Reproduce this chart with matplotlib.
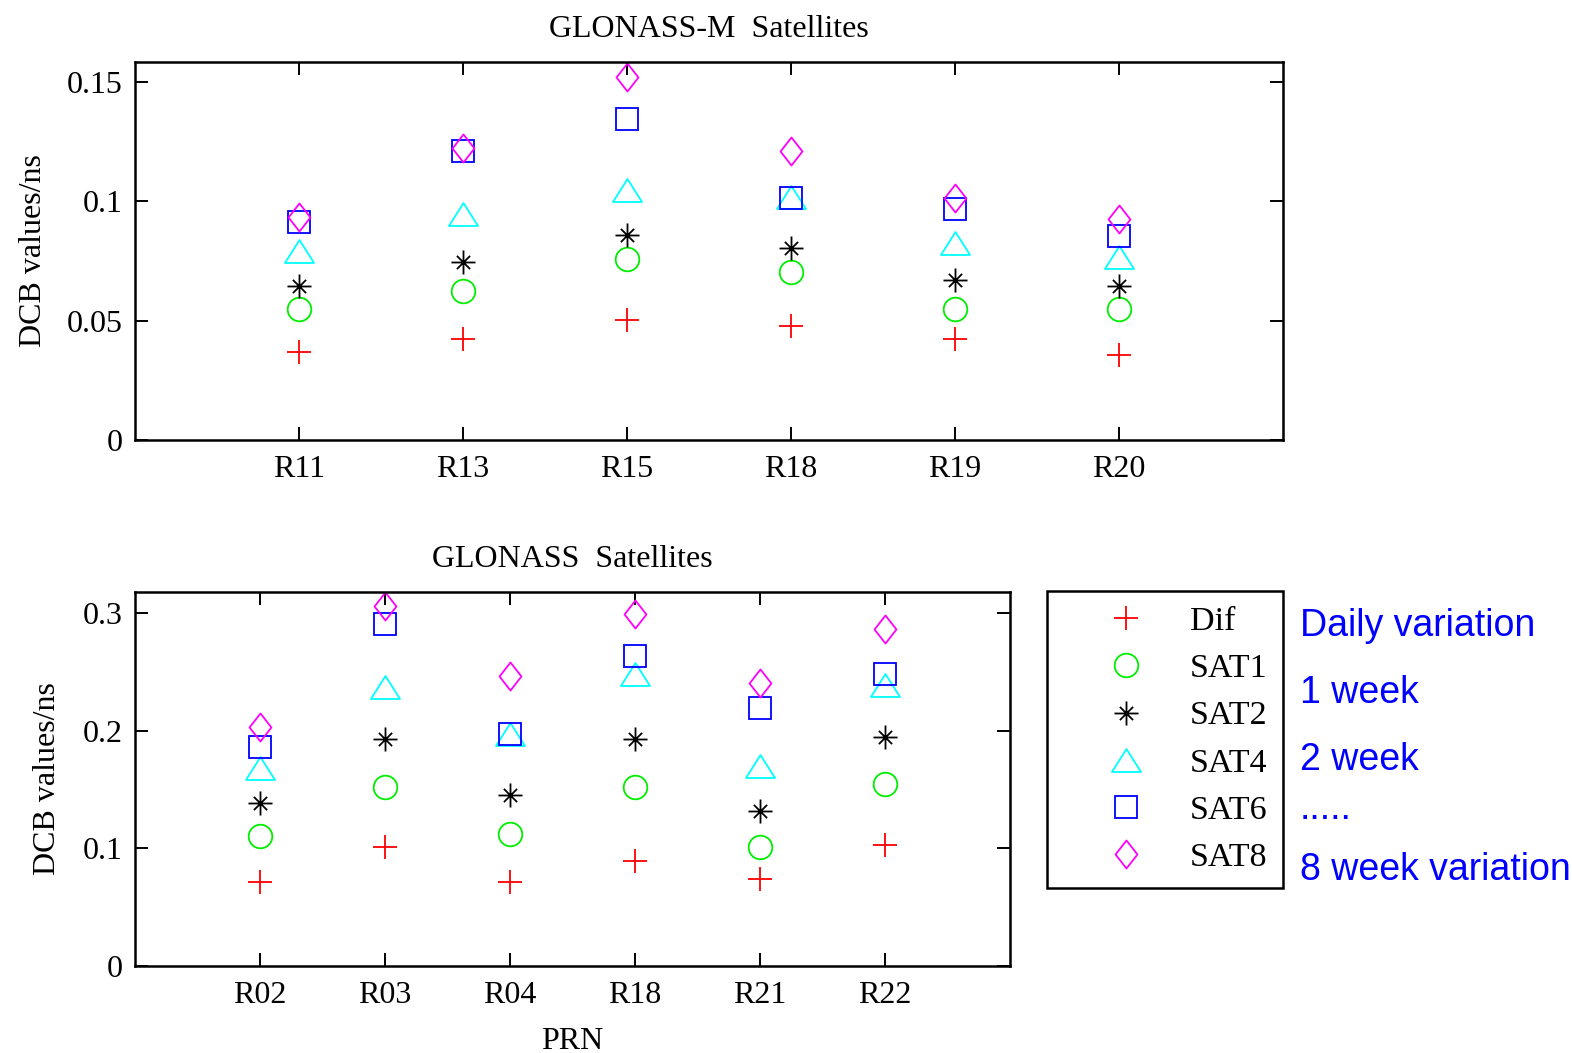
import numpy as np
import matplotlib.pyplot as plt
from matplotlib.path import Path
from matplotlib.lines import Line2D

plt.rcParams['font.family'] = 'Liberation Serif'

# DCB values (ns) per satellite, GLONASS-M group
prn_m = ['R11', 'R13', 'R15', 'R18', 'R19', 'R20']
dif_m = [0.0369, 0.0425, 0.0503, 0.0479, 0.0423, 0.0358]
sat1_m = [0.0548, 0.0626, 0.0757, 0.0703, 0.0548, 0.0548]
sat2_m = [0.0647, 0.0747, 0.0858, 0.0803, 0.0671, 0.0647]
sat4_m = [0.0791, 0.0946, 0.1046, 0.1020, 0.0824, 0.0766]
sat6_m = [0.0914, 0.1213, 0.1345, 0.1013, 0.0968, 0.0856]
sat8_m = [0.0933, 0.1225, 0.1523, 0.1213, 0.1013, 0.0925]

# GLONASS group
prn_g = ['R02', 'R03', 'R04', 'R18', 'R21', 'R22']
dif_g = [0.0716, 0.1011, 0.0716, 0.0897, 0.0736, 0.1032]
sat1_g = [0.1103, 0.1524, 0.1123, 0.1524, 0.1011, 0.1547]
sat2_g = [0.1390, 0.1928, 0.1458, 0.1928, 0.1318, 0.1948]
sat4_g = [0.1680, 0.2372, 0.1970, 0.2479, 0.1702, 0.2387]
sat6_g = [0.1860, 0.2908, 0.1974, 0.2639, 0.2192, 0.2484]
sat8_g = [0.2034, 0.3063, 0.2464, 0.2994, 0.2404, 0.2865]

names = ['Dif', 'SAT1', 'SAT2', 'SAT4', 'SAT6', 'SAT8']
notes = ['Daily variation', '1 week', '2 week', '.....', '8 week variation']

# matlab-like marker shapes
M, L = Path.MOVETO, Path.LINETO
d = 0.55
star = Path([(0, -1), (0, 1), (-1, 0), (1, 0), (-d, -d), (d, d), (-d, d), (d, -d)],
            [M, L, M, L, M, L, M, L])
tri = Path([(-1, -0.79), (1, -0.79), (0, 0.79), (-1, -0.79)], [M, L, L, Path.CLOSEPOLY])
dia = Path([(0, 1), (0.78, 0), (0, -1), (-0.78, 0), (0, 1)], [M, L, L, L, Path.CLOSEPOLY])

styles = [
    dict(marker='+', color='#ff0000', ms=17.3),
    dict(marker='o', color='#00ee00', ms=17.0),
    dict(marker=star, color='black', ms=17.3),
    dict(marker=tri, color='#00ffff', ms=20.9),
    dict(marker='s', color='#0000ff', ms=16.4),
    dict(marker=dia, color='#ff00ff', ms=20.2),
]

FS = 23


def draw(ax, labels, series, ymax, yticks, yticklabels, title, tpad):
    x = np.arange(1, len(labels) + 1)
    for vals, st in zip(series, styles):
        ax.plot(x, vals, linestyle='none', marker=st['marker'], ms=st['ms'],
                mfc='none', mec=st['color'], mew=1.3)
    ax.set_xlim(0, 7)
    ax.set_ylim(0, ymax)
    ax.set_xticks(x)
    ax.set_xticklabels(labels)
    ax.set_yticks(yticks)
    ax.set_yticklabels(yticklabels)
    ax.tick_params(direction='in', length=9.5, width=1.4, labelsize=FS,
                   top=True, right=True)
    ax.tick_params(axis='x', pad=11)
    ax.tick_params(axis='y', pad=9)
    for s in ax.spines.values():
        s.set_linewidth(1.8)
    ax.set_title(title, fontsize=FS, pad=tpad)
    ax.set_ylabel('DCB values/ns', fontsize=FS)


fig = plt.figure(figsize=(15.72, 10.53), dpi=100)
W, H = 1572, 1053

ax1 = fig.add_axes([135 / W, 1 - 440 / H, 1148 / W, 378 / H])
draw(ax1, prn_m, [dif_m, sat1_m, sat2_m, sat4_m, sat6_m, sat8_m], 0.1584,
     [0, 0.05, 0.1, 0.15], ['0', '0.05', '0.1', '0.15'], 'GLONASS-M  Satellites', 18)
ax1.yaxis.set_label_coords(-0.0757, 0.5)

ax2 = fig.add_axes([135 / W, 1 - 966 / H, 875 / W, 374 / H])
draw(ax2, prn_g, [dif_g, sat1_g, sat2_g, sat4_g, sat6_g, sat8_g], 0.318,
     [0, 0.1, 0.2, 0.3], ['0', '0.1', '0.2', '0.3'], 'GLONASS  Satellites', 18)
ax2.yaxis.set_label_coords(-0.0833, 0.5)
ax2.set_xlabel('PRN', fontsize=FS, labelpad=12)

handles = [Line2D([], [], linestyle='none', marker=st['marker'], ms=st['ms'],
                  mfc='none', mec=st['color'], mew=1.3) for st in styles]
leg = fig.legend(handles, names, loc='upper left',
                 bbox_to_anchor=(1047 / W, 1 - 591 / H), borderaxespad=0,
                 fontsize=24.5, numpoints=1, handlelength=3.75, handletextpad=0.0,
                 borderpad=0.45, labelspacing=0.48, fancybox=False,
                 edgecolor='black', framealpha=1)
leg.get_frame().set_linewidth(1.8)

baselines = [636, 703, 770, 819, 880]
for txt, b in zip(notes, baselines):
    fig.text(1300 / W, 1 - b / H, txt, color='#0000ff', fontsize=27,
             family='Liberation Sans', va='baseline', ha='left')

fig.savefig('out.png', dpi=100)
